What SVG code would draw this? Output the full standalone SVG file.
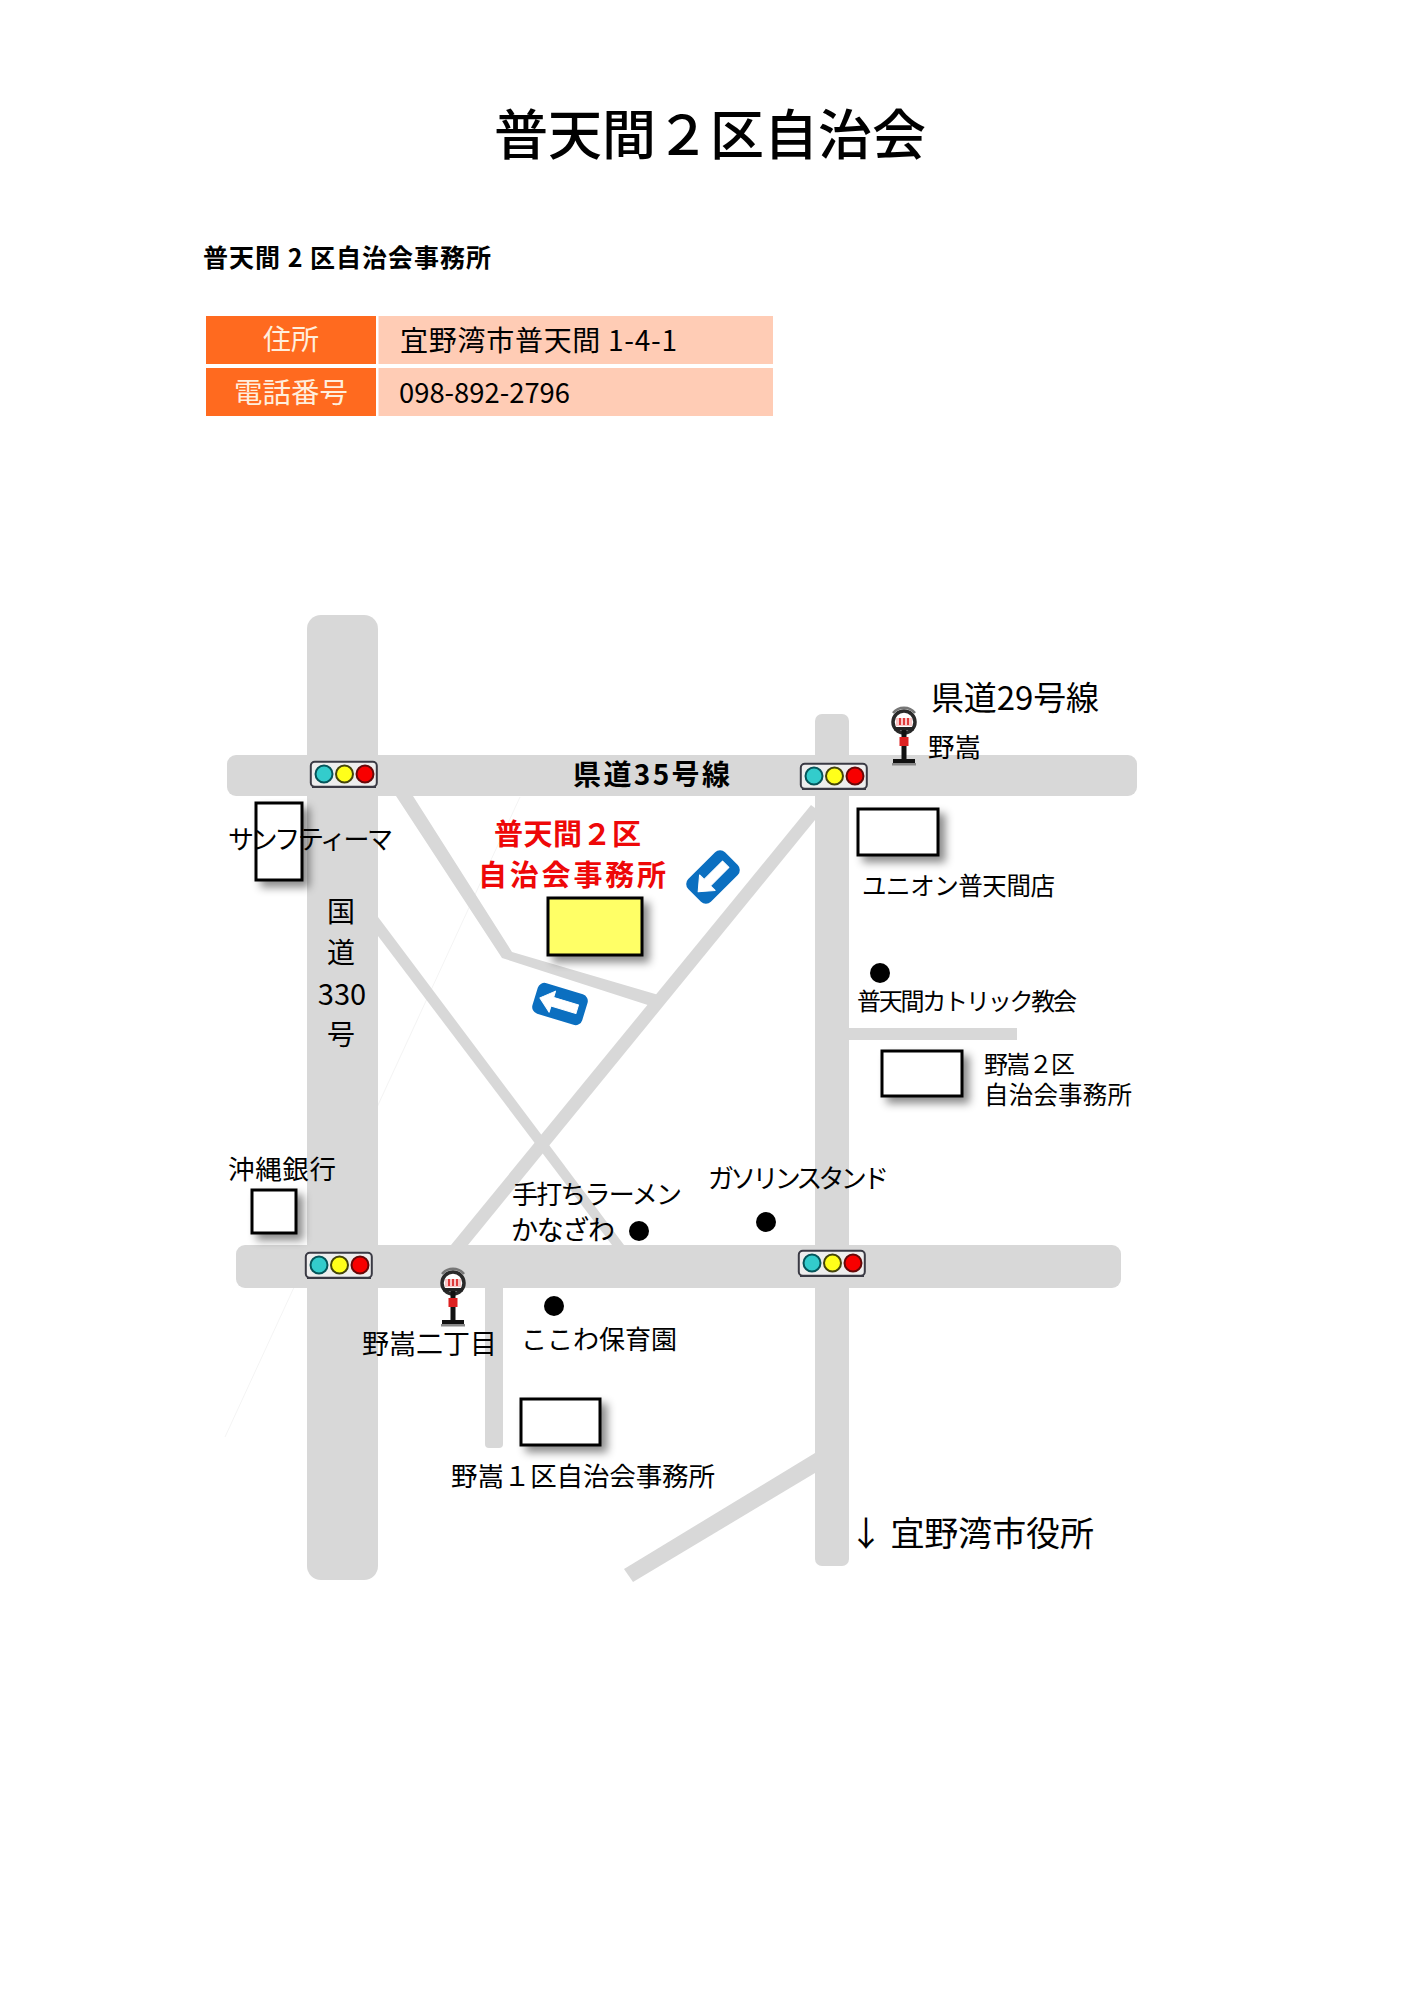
<svg xmlns="http://www.w3.org/2000/svg" xmlns:xlink="http://www.w3.org/1999/xlink" width="1413" height="2000" viewBox="0 0 1413 2000">
<style>
text{font-family:"Noto Sans CJK JP","Noto Sans CJK SC",sans-serif;fill:#000}
.road{fill:#d8d8d8}
.b{font-weight:700}
.red{fill:#ee0808;font-weight:700}
.bldg{fill:#fff;stroke:#000;stroke-width:3;filter:url(#sh)}
.dot{fill:#000}
.sign{fill:#0b6fc0}
.m{text-anchor:middle}
</style>
<defs>
<filter id="sh" x="-30%" y="-30%" width="170%" height="170%"><feDropShadow dx="6" dy="6" stdDeviation="4" flood-color="#000" flood-opacity=".45"/></filter>
<g id="tl">
<rect x="0.8" y="0.8" width="66" height="25" rx="4" fill="#eeeeee" stroke="#3a3a44" stroke-width="2"/>
<path d="M2 26H66" stroke="#3a3a44" stroke-width="2"/>
<circle cx="14" cy="13" r="8.500" fill="#33cccc" stroke="#05555a" stroke-width="2"/>
<circle cx="34.500" cy="13" r="8.500" fill="#ffff1a" stroke="#44440a" stroke-width="2"/>
<circle cx="55" cy="13" r="8.500" fill="#f80000" stroke="#660808" stroke-width="2"/>
</g>
<g id="stop">
<circle cx="0" cy="0" r="11" fill="#fff" stroke="#2a2a2a" stroke-width="3.500"/>
<path d="M-11-9A14 14 0 0 1 11-9" fill="none" stroke="#777" stroke-width="2.500"/>
<rect x="-8" y="-4" width="16" height="8" fill="#f9c8c8"/>
<path d="M-4-4V3M0-4V3M4-4V3" stroke="#d81818" stroke-width="1.600"/>
<rect x="-10" y="5" width="20" height="3.500" fill="#222"/>
<rect x="-2.500" y="8" width="5" height="31" fill="#111"/>
<rect x="-4.500" y="15" width="9" height="9" fill="#dd2020"/>
<rect x="-11" y="37" width="22" height="4" fill="#111"/>
<rect x="-12" y="41" width="24" height="2.500" fill="#888"/>
</g>
<g id="arrow">
<rect x="-26" y="-16" width="52" height="32" rx="7" class="sign"/>
<path d="M-21 0L-8-11V-4.500H18V4.500H-8V11Z" fill="#fff" stroke="#fff" stroke-width="1" stroke-linejoin="round"/>
</g>
</defs>
<rect width="1413" height="2000" fill="#fff"/>

<g id="title">
<text x="494" y="155" font-size="54" font-weight="500" textLength="432" lengthAdjust="spacing">普天間２区自治会</text>
<text x="203" y="267" font-size="25" class="b" textLength="288" xml:space="preserve">普天間 2 区自治会事務所</text>
</g>

<g id="info-table">
<rect x="206" y="316" width="170" height="48" fill="#ff6a1f"/>
<rect x="206" y="368" width="170" height="48" fill="#ff6a1f"/>
<rect x="378.500" y="316" width="394.500" height="48" fill="#ffccb5"/>
<rect x="378.500" y="368" width="394.500" height="48" fill="#ffccb5"/>
<text x="291" y="350" font-size="28" class="m" style="fill:#ffeedd">住所</text>
<text x="291" y="403" font-size="28.500" class="m" style="fill:#ffeedd">電話番号</text>
<text x="400" y="351" font-size="28" textLength="277" xml:space="preserve">宜野湾市普天間 1-4-1</text>
<text x="399" y="403" font-size="28" textLength="171" lengthAdjust="spacingAndGlyphs">098-892-2796</text>
</g>

<g id="roads">
<path d="M520 797L225 1437" fill="none" stroke="#f4f4f4" stroke-width="1"/>
<rect class="road" x="307" y="615" width="71" height="965" rx="14"/>
<rect class="road" x="815" y="714" width="34" height="852" rx="7"/>
<rect class="road" x="227" y="755" width="910" height="41" rx="9"/>
<rect class="road" x="236" y="1245" width="885" height="43" rx="9"/>
<polygon class="road" points="396,796 413,796 512,952 662,996 654,1007 502,958"/>
<polygon class="road" points="811,805 815,808 815,820 468,1245 451,1245"/>
<polygon class="road" points="378,917 624,1245 612,1245 378,936"/>
<rect class="road" x="849" y="1028" width="168" height="12"/>
<path class="road" d="M485 1288H503V1444a4 4 0 0 1-4 4H489a4 4 0 0 1-4-4Z"/>
<polygon class="road" points="815,1453 815,1473 633,1582 624,1569"/>
</g>

<g id="building-sunftima"><rect class="bldg" x="256" y="803" width="46" height="77"/><text x="228" y="849" font-size="26" textLength="165">サンフティーマ</text></g>
<g id="building-office"><rect class="bldg" x="548" y="898" width="94" height="57" style="fill:#ffff66"/></g>
<g id="building-union"><rect class="bldg" x="858" y="809" width="80" height="46"/><text x="862" y="895" font-size="24.500" textLength="193">ユニオン普天間店</text></g>
<g id="building-noda2"><rect class="bldg" x="882" y="1051" width="80" height="45"/><text x="984" y="1073" font-size="24" textLength="91">野嵩２区</text><text x="984" y="1104" font-size="24.500" textLength="148">自治会事務所</text></g>
<g id="building-bank"><rect class="bldg" x="252" y="1190" width="44" height="43"/><text x="228" y="1179" font-size="26.500" textLength="108">沖縄銀行</text></g>
<g id="building-noda1"><rect class="bldg" x="521" y="1399" width="79" height="46"/><text x="451" y="1486" font-size="26.500" textLength="264">野嵩１区自治会事務所</text></g>

<g id="signal-1"><use href="#tl" x="310" y="761"/></g>
<g id="signal-2"><use href="#tl" x="800" y="763"/></g>
<g id="signal-3"><use href="#tl" x="305" y="1252"/></g>
<g id="signal-4"><use href="#tl" x="798" y="1250"/></g>

<g id="stop-nodake"><use href="#stop" x="904" y="722"/><text x="928" y="757" font-size="26.500">野嵩</text></g>
<g id="stop-nodake2"><use href="#stop" x="453" y="1283"/><text x="362" y="1354" font-size="27" textLength="135">野嵩二丁目</text></g>

<g id="sign-left"><use href="#arrow" transform="translate(560 1004) rotate(17)"/></g>
<g id="sign-downleft"><use href="#arrow" transform="translate(713 877) rotate(-45)"/></g>

<g id="poi-church"><circle class="dot" cx="880" cy="973" r="10"/><text x="857" y="1010" font-size="24" textLength="220">普天間カトリック教会</text></g>
<g id="poi-ramen"><circle class="dot" cx="639" cy="1231" r="10"/><text x="512" y="1204" font-size="26" textLength="170">手打ちラーメン</text><text x="511" y="1240" font-size="27" textLength="104">かなざわ</text></g>
<g id="poi-nursery"><circle class="dot" cx="554" cy="1306" r="10"/><text x="521" y="1349" font-size="26" textLength="156">ここわ保育園</text></g>
<g id="poi-gas"><circle class="dot" cx="766" cy="1222" r="10"/><text x="708" y="1188" font-size="26" textLength="181">ガソリンスタンド</text></g>

<g id="road-labels">
<text x="573" y="785" font-size="28" class="b" textLength="157">県道35号線</text>
<text x="931" y="710" font-size="33" textLength="168">県道29号線</text>
<text x="341" y="922" font-size="28" class="m">国</text>
<text x="341" y="963" font-size="28" class="m">道</text>
<text x="342" y="1005" font-size="29" class="m">330</text>
<text x="341" y="1045" font-size="28" class="m">号</text>
<text x="849" y="1546" font-size="34" textLength="245" xml:space="preserve">↓ 宜野湾市役所</text>
</g>

<g id="office-label">
<text x="494" y="845" font-size="29" class="red" textLength="147">普天間２区</text>
<text x="478" y="886" font-size="29" class="red" textLength="188">自治会事務所</text>
</g>
</svg>
